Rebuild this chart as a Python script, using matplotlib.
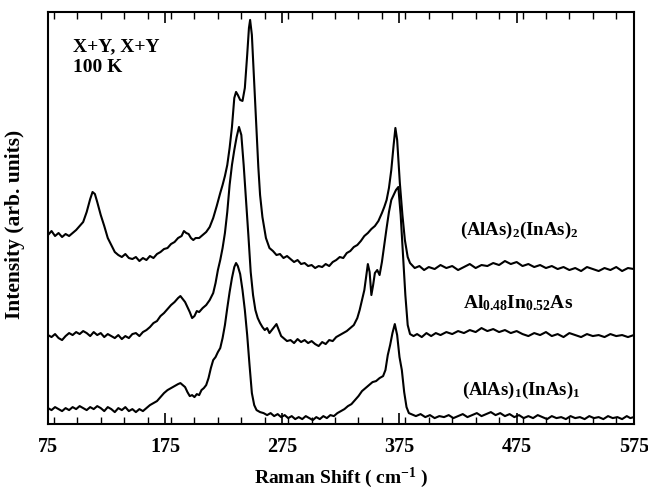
#Raman spectra of AlAs/InAs superlattices and the AlInAs alloy, offset vertically.
import matplotlib.pyplot as plt
from matplotlib.ticker import MultipleLocator

plt.rcParams['font.family'] = 'Liberation Serif'
plt.rcParams['font.weight'] = 'bold'
plt.rcParams['mathtext.fontset'] = 'custom'
plt.rcParams['mathtext.rm'] = 'Liberation Serif:bold'
plt.rcParams['mathtext.it'] = 'Liberation Serif:bold'
plt.rcParams['mathtext.bf'] = 'Liberation Serif:bold'

# Data (intensity in arbitrary units, already offset)
shift_22 = [75, 78, 81, 84, 87, 90, 93, 96, 99, 102, 105, 108, 111, 113, 115, 117, 120, 123, 126, 129,
            132, 135, 138, 141, 144, 147, 150, 153, 156, 159, 162, 165, 168, 171, 174, 177, 180, 183, 186, 189,
            191, 193, 195, 197, 199, 201, 204, 207, 210, 213, 216, 219, 222, 224, 226, 228, 230, 232, 234, 235.5,
            237, 239, 241, 243, 245, 246.5, 247.5, 249, 251, 253, 254.5, 256, 258, 261, 264, 267, 270, 273, 276, 279,
            282, 285, 288, 291, 294, 297, 300, 303, 306, 309, 312, 315, 318, 321, 324, 327, 330, 333, 336, 339,
            342, 345, 348, 351, 354, 357, 360, 362, 364, 366, 368, 370, 371.5, 373, 375.3, 377.5, 379.6, 382, 384, 388,
            392, 396, 400, 405, 410, 415, 420, 425, 430, 435, 440, 445, 450, 455, 460, 465, 470, 475, 480, 485,
            490, 495, 500, 505, 510, 515, 520, 525, 530, 535, 540, 545, 550, 555, 560, 565, 570, 575]
int_22 = [189, 193, 188, 191, 187, 190, 188, 191, 194, 198, 202, 212, 225, 232, 230, 222, 209, 198, 186, 179,
          172, 169, 167, 170, 166, 165, 167, 163, 166, 164, 168, 166, 170, 172, 175, 176, 180, 182, 186, 188,
          193, 191, 190, 186, 184, 186, 186, 189, 192, 197, 206, 218, 231, 239, 248, 259, 276, 297, 326, 332,
          329, 324, 323, 336, 369, 396, 404, 389, 341, 294, 257, 229, 207, 186, 176, 173, 169, 170, 166, 168,
          165, 162, 164, 160, 161, 158, 159, 156, 158, 157, 160, 158, 162, 164, 167, 166, 171, 173, 177, 179,
          183, 188, 191, 195, 198, 203, 211, 217, 224, 236, 254, 279, 296, 284, 241, 209, 184, 167, 161, 156,
          158, 154, 157, 155, 159, 156, 158, 154, 157, 160, 156, 159, 158, 161, 159, 163, 160, 162, 158, 160,
          157, 159, 156, 158, 155, 157, 154, 156, 153, 157, 155, 153, 156, 154, 157, 153, 156, 155]

shift_alloy = [75, 78, 81, 84, 87, 90, 93, 96, 99, 102, 105, 108, 111, 114, 117, 120, 123, 126, 129, 132,
               135, 138, 141, 144, 147, 150, 153, 156, 159, 162, 165, 168, 171, 174, 177, 180, 183, 186, 188, 190,
               192, 194, 196, 198, 200, 202, 204, 207, 210, 213, 216, 218, 220, 222, 224, 226, 228, 230, 232, 234,
               236, 238, 240, 242, 244, 246, 248, 250, 252, 254, 256, 258, 260, 262, 264, 266, 268, 270, 272, 274,
               276, 279, 282, 285, 288, 291, 294, 297, 300, 303, 306, 309, 312, 315, 318, 321, 324, 327, 330, 333,
               336, 339, 341, 343, 345, 346.5, 348, 349.5, 351, 352.5, 354, 356, 358, 360, 362, 364, 366, 368, 370, 372,
               374, 376, 378, 380, 382, 384, 387, 390, 394, 398, 402, 406, 410, 415, 420, 425, 430, 435, 440, 445,
               450, 455, 460, 465, 470, 475, 480, 485, 490, 495, 500, 505, 510, 515, 520, 525, 530, 535, 540, 545,
               550, 555, 560, 565, 570, 575]
int_alloy = [89, 87, 90, 86, 84, 88, 91, 89, 92, 90, 93, 91, 88, 92, 89, 91, 87, 90, 88, 86,
             89, 85, 88, 86, 90, 91, 88, 92, 94, 97, 101, 103, 108, 111, 115, 119, 122, 126, 128, 125,
             122, 117, 112, 106, 108, 113, 112, 116, 119, 124, 131, 141, 154, 164, 176, 191, 212, 239, 259, 274,
             287, 297, 289, 259, 224, 189, 152, 129, 114, 106, 101, 97, 94, 96, 91, 94, 97, 100, 94, 88,
             86, 83, 84, 81, 85, 82, 84, 81, 83, 80, 78, 82, 80, 84, 83, 87, 89, 91, 93, 96,
             99, 106, 114, 124, 134, 147, 160, 152, 129, 139, 151, 154, 149, 162, 179, 196, 212, 224, 229, 234,
             237, 209, 169, 129, 99, 90, 88, 90, 87, 91, 88, 91, 89, 92, 90, 93, 91, 94, 92, 96,
             93, 95, 92, 94, 91, 93, 90, 88, 91, 89, 92, 88, 90, 87, 91, 89, 87, 90, 88, 89,
             87, 90, 88, 89, 87, 89]

shift_11 = [75, 78, 81, 84, 87, 90, 93, 96, 99, 102, 105, 108, 111, 114, 117, 120, 123, 126, 129, 132,
            135, 138, 141, 144, 147, 150, 153, 156, 159, 162, 165, 168, 171, 174, 177, 180, 183, 186, 188, 190,
            192, 194, 196, 198, 200, 202, 204, 206, 208, 210, 212, 214, 216, 218, 220, 222, 224, 226, 228, 230,
            232, 234, 235.5, 237, 239, 241, 243, 245, 247, 249, 251, 253, 256, 259, 262, 265, 268, 271, 274, 277,
            280, 283, 286, 289, 292, 295, 298, 301, 304, 307, 310, 313, 316, 319, 322, 325, 328, 331, 334, 337,
            340, 343, 346, 349, 352, 355, 358, 361, 363, 365, 367, 369, 371, 373, 375, 377, 379, 381, 383, 385,
            389, 393, 397, 401, 405, 409, 413, 417, 421, 425, 429, 433, 437, 441, 445, 449, 453, 457, 461, 465,
            469, 473, 477, 481, 485, 489, 493, 497, 501, 505, 509, 513, 517, 521, 525, 529, 533, 537, 541, 545,
            549, 553, 557, 561, 565, 569, 572, 575]
int_11 = [16, 14, 17, 15, 13, 16, 14, 17, 15, 18, 16, 14, 17, 15, 18, 16, 13, 17, 15, 12,
          16, 14, 17, 13, 15, 12, 15, 13, 16, 19, 21, 23, 27, 31, 34, 36, 38, 40, 41, 39,
          37, 32, 28, 29, 27, 30, 29, 34, 36, 39, 46, 56, 64, 67, 72, 76, 86, 99, 116, 132,
          146, 157, 161, 158, 150, 134, 114, 89, 59, 31, 19, 14, 12, 11, 9, 11, 8, 10, 7, 9,
          6, 8, 5, 7, 5, 8, 6, 4, 7, 5, 8, 6, 9, 8, 11, 13, 15, 18, 20, 24,
          28, 33, 36, 39, 42, 43, 46, 48, 54, 69, 79, 91, 100, 89, 67, 54, 32, 17, 11, 10,
          8, 10, 7, 9, 6, 8, 7, 9, 6, 8, 10, 7, 9, 11, 8, 10, 12, 9, 11, 8,
          10, 7, 9, 6, 8, 6, 9, 7, 5, 8, 6, 7, 5, 8, 6, 7, 5, 8, 6, 7,
          5, 8, 6, 7, 5, 8, 6, 7]

fig = plt.figure(figsize=(6.48, 4.92), dpi=100)
ax = fig.add_axes([0.0741, 0.138, 0.904, 0.8378])

for xs, ys in [(shift_22, int_22), (shift_alloy, int_alloy), (shift_11, int_11)]:
    ax.plot(xs, ys, color='black', linewidth=1.5)

ax.set_xlim(75, 575)
ax.set_ylim(0, 412)
ax.set_xticks([75, 175, 275, 375, 475, 575])
ax.xaxis.set_minor_locator(MultipleLocator(20))
ax.tick_params(axis='x', which='both', direction='in', top=True, labelsize=14.5, pad=9)
ax.tick_params(axis='x', which='major', length=8, width=1.2)
ax.tick_params(axis='x', which='minor', length=5, width=1.0)
ax.set_yticks([])
for s in ax.spines.values():
    s.set_linewidth(1.5)

ax.set_xlabel('Raman Shift ( cm$^{-1}$ )', fontsize=14, fontweight='bold')
ax.xaxis.set_label_coords(0.5, -0.1)
ax.set_ylabel('Intensity (arb. units)', fontsize=15.5, fontweight='bold')
ax.yaxis.set_label_coords(-0.04, 0.485)

ax.text(0.043, 0.915, 'X+Y, X+Y', transform=ax.transAxes, fontsize=14, fontweight='bold', va='center')
ax.text(0.043, 0.864, '100 K', transform=ax.transAxes, fontsize=14, fontweight='bold', va='center')

ax.text(477, 194, '(AlAs)$_2$(InAs)$_2$', fontsize=13.5, ha='center', va='center')
ax.text(476, 121, 'Al$_{0.48}$In$_{0.52}$As', fontsize=14, ha='center', va='center')
ax.text(479, 34, '(AlAs)$_1$(InAs)$_1$', fontsize=13.5, ha='center', va='center')

plt.savefig('out.png', dpi=100)
